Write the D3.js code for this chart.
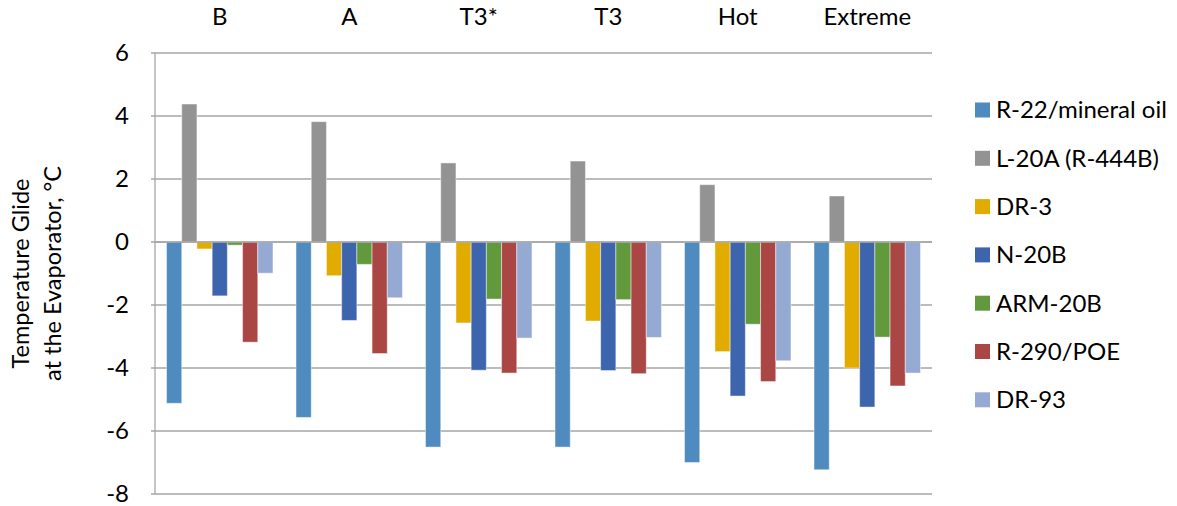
<!DOCTYPE html>
<html>
<head>
<meta charset="utf-8">
<script src="https://cdn.jsdelivr.net/npm/d3@7"></script>
<style>
  body { margin: 0; background: #fff; }
  svg text { font-family: Lato, "Open Sans", sans-serif; fill: #000; }
</style>
</head>
<body>
<div id="chart"></div>
<script>
// catégories et séries
const categories = ["B", "A", "T3*", "T3", "Hot", "Extreme"];
const seriesNames = ["R-22/mineral oil", "L-20A (R-444B)", "DR-3", "N-20B", "ARM-20B", "R-290/POE", "DR-93"];
const r22 = [-5.12, -5.57, -6.51, -6.51, -7.0, -7.23];
const l20a = [4.38, 3.82, 2.51, 2.57, 1.82, 1.46];
const dr3 = [-0.22, -1.07, -2.57, -2.51, -3.48, -4.0];
const n20b = [-1.71, -2.49, -4.07, -4.08, -4.89, -5.24];
const arm20b = [-0.1, -0.71, -1.81, -1.83, -2.61, -3.02];
const r290 = [-3.18, -3.54, -4.16, -4.18, -4.43, -4.57];
const dr93 = [-0.99, -1.77, -3.05, -3.03, -3.77, -4.16];
const yTicks = [-8, -6, -4, -2, 0, 2, 4, 6];

const seriesValues = [r22, l20a, dr3, n20b, arm20b, r290, dr93];
const colors = ["#4F8BBF", "#939393", "#E2AB00", "#3D65AD", "#63993D", "#AA4745", "#95AAD2"];

const width = 1177, height = 506;
const margin = { left: 155, right: 245, top: 53, bottom: 12 };

const svg = d3.select("#chart").append("svg")
    .attr("width", width)
    .attr("height", height);

const x0 = d3.scaleBand()
    .domain(categories)
    .range([margin.left, width - margin.right]);

const inset = x0.bandwidth() * 0.089;
const x1 = d3.scaleBand()
    .domain(d3.range(seriesNames.length))
    .range([inset, x0.bandwidth() - inset]);

const y = d3.scaleLinear()
    .domain([-8, 6])
    .range([height - margin.bottom, margin.top]);

// grille
svg.append("g")
    .selectAll("line")
    .data(yTicks)
    .join("line")
    .attr("x1", margin.left - 4)
    .attr("x2", width - margin.right)
    .attr("y1", d => y(d))
    .attr("y2", d => y(d))
    .attr("stroke", "#A6A6A6")
    .attr("stroke-width", 1.3);

// axe vertical
svg.append("line")
    .attr("x1", margin.left).attr("x2", margin.left)
    .attr("y1", y(6)).attr("y2", y(-8))
    .attr("stroke", "#A6A6A6")
    .attr("stroke-width", 1.3);

// barres
const rows = categories.map((c, i) => ({ cat: c, vals: seriesValues.map(s => s[i]) }));
svg.append("g")
    .selectAll("g")
    .data(rows)
    .join("g")
    .attr("transform", d => `translate(${x0(d.cat)},0)`)
    .selectAll("rect")
    .data(d => d.vals.map((v, k) => ({ v, k })))
    .join("rect")
    .attr("x", d => x1(d.k))
    .attr("width", x1.bandwidth())
    .attr("y", d => Math.min(y(d.v), y(0)))
    .attr("height", d => Math.abs(y(d.v) - y(0)))
    .attr("fill", d => colors[d.k])
    .attr("stroke", "#fff")
    .attr("stroke-opacity", 0.45)
    .attr("stroke-width", 1);

// ligne zéro
svg.append("line")
    .attr("x1", margin.left).attr("x2", width - margin.right)
    .attr("y1", y(0)).attr("y2", y(0))
    .attr("stroke", "#A6A6A6")
    .attr("stroke-width", 1.3);

// étiquettes de l'axe y
svg.append("g")
    .selectAll("text")
    .data(yTicks)
    .join("text")
    .attr("x", 129)
    .attr("y", d => y(d))
    .attr("dy", "0.35em")
    .attr("text-anchor", "end")
    .style("font-size", "24px")
    .text(d => d);

// catégories en haut
svg.append("g")
    .selectAll("text")
    .data(categories)
    .join("text")
    .attr("x", d => x0(d) + x0.bandwidth() / 2)
    .attr("y", 17)
    .attr("dy", "0.35em")
    .attr("text-anchor", "middle")
    .style("font-size", "24px")
    .text(d => d);

// titre de l'axe y
const titleY = (y(6) + y(-8)) / 2;
svg.append("text")
    .attr("transform", `translate(29,${titleY}) rotate(-90)`)
    .attr("text-anchor", "middle")
    .style("font-size", "23.5px")
    .text("Temperature Glide");
svg.append("text")
    .attr("transform", `translate(61,${titleY}) rotate(-90)`)
    .attr("text-anchor", "middle")
    .style("font-size", "23.5px")
    .text("at the Evaporator, °C");

// légende
const legend = svg.append("g")
    .selectAll("g")
    .data(seriesNames)
    .join("g")
    .attr("transform", (d, i) => `translate(975,${110 + i * 48.3})`);
legend.append("rect")
    .attr("x", 0).attr("y", -7.5)
    .attr("width", 15).attr("height", 15)
    .attr("fill", (d, i) => colors[i]);
legend.append("text")
    .attr("x", 21)
    .attr("dy", "0.35em")
    .style("font-size", "24px")
    .text(d => d);
</script>
</body>
</html>
